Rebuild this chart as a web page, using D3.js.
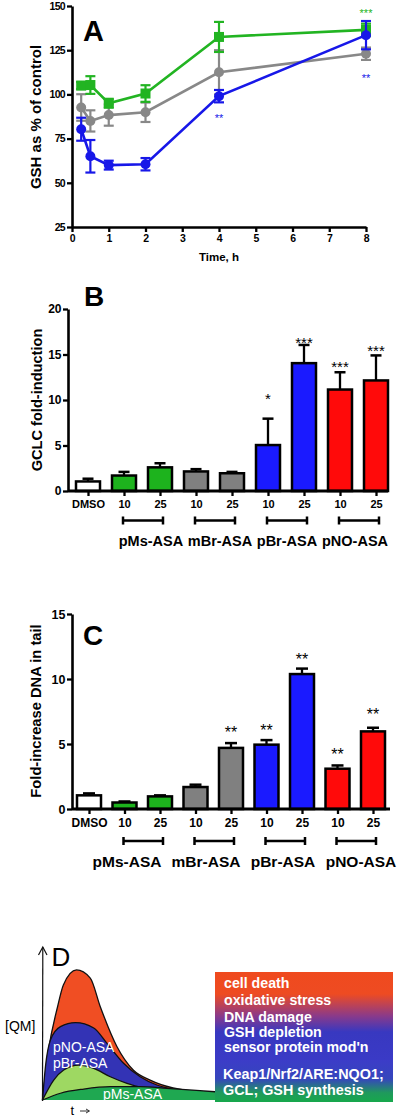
<!DOCTYPE html>
<html><head><meta charset="utf-8">
<script src="https://cdn.jsdelivr.net/npm/d3@7/dist/d3.min.js"></script>
<style>
body{margin:0;background:#fff;}
svg{display:block;font-family:"Liberation Sans",Arial,sans-serif;}
</style></head><body>
<svg id="c" width="400" height="1119"></svg>
<script>
// ---------- Panel A data (GSH as % of control vs time) ----------
const timesA = [0.25, 0.5, 1, 2, 4, 8];
const pMsGSH = [105, 105.3, 95, 100.5, 132.5, 136.5];
const pMsGSHErr = [2, 5, 2.5, 4.7, 8.5, 3.5];
const mBrGSH = [92.6, 85, 88.3, 89.9, 112.5, 123];
const mBrGSHErr = [7.5, 6, 6, 5.5, 12.5, 3.5];
const pBrGSH = [80.3, 65, 60, 60.5, 99, 133.5];
const pBrGSHErr = [6.5, 9.2, 2.5, 3.5, 3.5, 8];
const yTicksA = [25, 50, 75, 100, 125, 150];
const xTicksA = [0, 1, 2, 3, 4, 5, 6, 7, 8];
const starsATime = [8, 4, 8];
const starsALevel = [147.5, 88, 110.5];
const starsAText = ["***", "**", "**"];
const starsASeries = ["pMs", "pBr", "pBr"];

// ---------- Panels B & C shared categories ----------
const barCategories = ["DMSO","pMs-10","pMs-25","mBr-10","mBr-25","pBr-10","pBr-25","pNO-10","pNO-25"];
const doseLabels = ["DMSO","10","25","10","25","10","25","10","25"];
const barGroup = ["DMSO","pMs","pMs","mBr","mBr","pBr","pBr","pNO","pNO"];
const groupKeys = ["pMs","mBr","pBr","pNO"];
const groupNames = ["pMs-ASA","mBr-ASA","pBr-ASA","pNO-ASA"];

// ---------- Panel B data (GCLC fold-induction) ----------
const gclcValues = [1.05, 1.7, 2.6, 2.15, 1.95, 5.05, 14.05, 11.15, 12.15];
const gclcErr = [0.3, 0.4, 0.45, 0.25, 0.15, 2.9, 2.0, 1.9, 2.75];
const gclcStars = ["","","","","","*","***","***","***"];
const gclcStarLevel = [0,0,0,0,0,10.5,16.7,14.0,15.8];
const yTicksB = [0, 5, 10, 15, 20];

// ---------- Panel C data (Fold-increase DNA in tail) ----------
const dnaValues = [1.05, 0.5, 0.97, 1.69, 4.7, 4.95, 10.38, 3.1, 5.97];
const dnaErr = [0.15, 0.08, 0.08, 0.18, 0.37, 0.35, 0.42, 0.25, 0.28];
const dnaStars = ["","","","","**","**","**","**","**"];
const dnaStarLevel = [0,0,0,0,6.2,6.35,11.8,4.5,7.55];
const yTicksC = [0, 5, 10, 15];

// ---------- Panel D schematic curves ([t, QM] pairs) ----------
const qmPNO = [[0,0],[3.5,33.3],[8.7,62],[12.1,76.7],[19.7,86.7],[27.7,81.3],[33.5,62.2],[43.2,35.5],[52.6,20],[62.4,13.3],[75.7,8],[91.3,5.5],[100,5.3]];
const qmPBr = [[0,0],[1.7,22.2],[4.6,40],[10.4,48.9],[19.1,51.6],[29.7,48],[37.4,37.8],[47,24.5],[56.6,15.5],[66.3,10],[73,7.8]];
const qmMid = [[0,0],[6.5,13.3],[12.3,20],[21,23.3],[29.7,21.1],[39.3,15.5],[49,11.1],[56.6,8.5]];
const qmPMs = [[0,0],[10.4,4.5],[23.9,7.3],[39.3,8.9],[56.6,8.9],[72.1,7.8],[91.3,6.2],[100,5.5]];
const boxLinesTop = ["cell death","oxidative stress","DNA damage","GSH depletion","sensor protein mod'n"];
const boxLinesBottom = ["Keap1/Nrf2/ARE:NQO1;","GCL; GSH synthesis"];

// ---------- styles ----------
const colA = {pMs:"#22b422", mBr:"#888888", pBr:"#1717e8"};
const barColor = {DMSO:"#ffffff", pMs:"#1db31d", mBr:"#808080", pBr:"#1a1aff", pNO:"#ff0a0a"};

const svg = d3.select("#c");

function styleAxis(g, fs, ls) {
  g.selectAll("path.domain").attr("stroke","#000").attr("stroke-width",2.6);
  g.selectAll(".tick line").attr("stroke","#000").attr("stroke-width",2.3);
  g.selectAll(".tick text").attr("fill","#000").attr("font-weight","bold")
    .attr("font-size",fs).attr("font-family","'Liberation Sans',Arial,sans-serif")
    .attr("letter-spacing", ls || 0);
}
function starText(g, x, yCenter, txt, fs, color) {
  g.append("text").attr("x",x).attr("y",yCenter + 0.57*fs).attr("text-anchor","middle")
    .attr("font-size",fs).attr("fill",color).text(txt);
}

// ================= Panel A =================
(function(){
  const x = d3.scaleLinear().domain([0,8]).range([72,366]);
  const y = d3.scaleLinear().domain([25,150]).range([227,6]);
  const g = svg.append("g");
  const ya = g.append("g").attr("transform","translate(72,0)")
    .call(d3.axisLeft(y).tickValues(yTicksA).tickSize(5).tickSizeOuter(0).tickPadding(2));
  styleAxis(ya, 10.5, -0.7);
  const xa = g.append("g").attr("transform","translate(0,227)")
    .call(d3.axisBottom(x).tickValues(xTicksA).tickSize(5).tickSizeOuter(0).tickPadding(3));
  styleAxis(xa, 10.5, -0.3);
  g.append("text").attr("x",219).attr("y",261).attr("text-anchor","middle")
    .attr("font-weight","bold").attr("font-size",11.5).text("Time, h");
  g.append("text").attr("transform","translate(41,117) rotate(-90)").attr("text-anchor","middle")
    .attr("font-weight","bold").attr("font-size",15).text("GSH as % of control");
  g.append("text").attr("x",83).attr("y",41).attr("font-weight","bold").attr("font-size",29).text("A");

  const series = [
    {key:"mBr", v:mBrGSH, e:mBrGSHErr, shape:"circle"},
    {key:"pMs", v:pMsGSH, e:pMsGSHErr, shape:"square"},
    {key:"pBr", v:pBrGSH, e:pBrGSHErr, shape:"circle"}
  ];
  const line = d3.line().x(d=>x(d[0])).y(d=>y(d[1]));
  series.forEach(s=>{
    const c = colA[s.key];
    const pts = timesA.map((t,i)=>[t,s.v[i],s.e[i]]);
    const sg = g.append("g");
    pts.forEach(p=>{
      const cx = x(p[0]);
      sg.append("line").attr("x1",cx).attr("x2",cx).attr("y1",y(p[1]-p[2])).attr("y2",y(p[1]+p[2]))
        .attr("stroke",c).attr("stroke-width",2.2);
      [p[1]-p[2], p[1]+p[2]].forEach(v=>{
        sg.append("line").attr("x1",cx-5).attr("x2",cx+5).attr("y1",y(v)).attr("y2",y(v))
          .attr("stroke",c).attr("stroke-width",2.2);
      });
    });
    sg.append("path").datum(pts).attr("d",line).attr("fill","none").attr("stroke",c).attr("stroke-width",2.6);
    pts.forEach(p=>{
      if (s.shape==="circle") sg.append("circle").attr("cx",x(p[0])).attr("cy",y(p[1])).attr("r",5).attr("fill",c);
      else sg.append("rect").attr("x",x(p[0])-5).attr("y",y(p[1])-5).attr("width",10).attr("height",10).attr("fill",c);
    });
  });
  starsATime.forEach((t,i)=>starText(g, x(t), y(starsALevel[i]), starsAText[i], 11, colA[starsASeries[i]]));
})();

// ================= Bar panels =================
function barPanel(opts) {
  const g = svg.append("g");
  const x = d3.scalePoint().domain(barCategories).range(opts.xr).padding(0);
  const y = d3.scaleLinear().domain(opts.yd).range(opts.yr);
  const ya = g.append("g").attr("transform",`translate(${opts.ax},0)`)
    .call(d3.axisLeft(y).tickValues(opts.yTicks).tickSize(5).tickSizeOuter(0).tickPadding(1.5));
  styleAxis(ya, opts.yfs);
  barCategories.forEach((c,i)=>{
    const cx = x(c), v = opts.values[i], e = opts.err[i];
    g.append("line").attr("x1",cx).attr("x2",cx).attr("y1",y(v)).attr("y2",y(v+e))
      .attr("stroke","#000").attr("stroke-width",2.3);
    g.append("line").attr("x1",cx-opts.cap/2).attr("x2",cx+opts.cap/2).attr("y1",y(v+e)).attr("y2",y(v+e))
      .attr("stroke","#000").attr("stroke-width",2.5);
    g.append("rect").attr("x",cx-opts.bw/2).attr("y",y(v)).attr("width",opts.bw).attr("height",y(0)-y(v))
      .attr("fill",barColor[barGroup[i]]).attr("stroke","#000").attr("stroke-width",2.5);
    if (opts.stars[i]) starText(g, cx, y(opts.starLevel[i]), opts.stars[i], opts.sfs, "#000");
  });
  const xa = g.append("g").attr("transform",`translate(0,${y(0)})`)
    .call(d3.axisBottom(x).tickSize(5).tickSizeOuter(0).tickPadding(4).tickFormat((d,i)=>doseLabels[i]));
  styleAxis(xa, opts.xfs);
  xa.select("path.domain").remove();
  g.append("line").attr("x1",opts.ax).attr("x2",opts.xEnd).attr("y1",y(0)).attr("y2",y(0))
    .attr("stroke","#000").attr("stroke-width",2.8);
  groupKeys.forEach((k,j)=>{
    const x1 = x(k+"-10") + opts.bl, x2 = x(k+"-25") + opts.br;
    const by = opts.bracketY;
    g.append("line").attr("x1",x1).attr("x2",x2).attr("y1",by).attr("y2",by).attr("stroke","#000").attr("stroke-width",2.7);
    [x1,x2].forEach(xx=>g.append("line").attr("x1",xx).attr("x2",xx).attr("y1",by-4).attr("y2",by+4)
      .attr("stroke","#000").attr("stroke-width",2.5));
    g.append("text").attr("x",opts.groupX[j]).attr("y",opts.groupY).attr("text-anchor","middle")
      .attr("font-weight","bold").attr("font-size",opts.gfs).text(groupNames[j]);
  });
  g.append("text").attr("transform",`translate(${opts.labX},${opts.labY}) rotate(-90)`).attr("text-anchor","middle")
    .attr("font-weight","bold").attr("font-size",opts.lfs).text(opts.label);
  g.append("text").attr("x",opts.letterX).attr("y",opts.letterY).attr("font-weight","bold").attr("font-size",28).text(opts.letter);
}

barPanel({xr:[88,376], yd:[0,20], yr:[491,309], ax:68, xEnd:388, yTicks:yTicksB, yfs:12,
  values:gclcValues, err:gclcErr, stars:gclcStars, starLevel:gclcStarLevel, sfs:15,
  bw:24, cap:11, xfs:11, bracketY:520.5, bl:-1, br:3, groupX:[151,220,287,355], groupY:546, gfs:14.5,
  label:"GCLC fold-induction", labX:42, labY:400, lfs:14.6, letter:"B", letterX:84, letterY:306});

barPanel({xr:[89,373], yd:[0,15], yr:[809,614], ax:72, xEnd:390, yTicks:yTicksC, yfs:12.5,
  values:dnaValues, err:dnaErr, stars:dnaStars, starLevel:dnaStarLevel, sfs:16,
  bw:24, cap:12, xfs:12, bracketY:841, bl:-1, br:3, groupX:[127,206,283,361], groupY:867, gfs:15.5,
  label:"Fold-increase DNA in tail", labX:41, labY:711, lfs:14.7, letter:"C", letterX:83, letterY:645});

// ================= Panel D =================
(function(){
  const g = svg.append("g");
  const x = d3.scaleLinear().domain([0,100]).range([42.5,215]);
  const y = d3.scaleLinear().domain([0,100]).range([1100,950]);
  const area = d3.area().x(d=>x(d[0])).y0(y(0)).y1(d=>y(d[1])).curve(d3.curveMonotoneX);
  const ln = d3.line().x(d=>x(d[0])).y(d=>y(d[1])).curve(d3.curveMonotoneX);
  const layers = [[qmPNO,"#f04e23"],[qmPBr,"#3333b5"],[qmMid,"#9ed862"],[qmPMs,"#1fa851"]];
  layers.forEach(([d,c])=>{
    g.append("path").datum(d).attr("d",area).attr("fill",c);
    g.append("path").datum(d).attr("d",ln).attr("fill","none").attr("stroke","#111").attr("stroke-width",1.3);
  });
  g.append("line").attr("x1",42.5).attr("x2",42.8).attr("y1",1101).attr("y2",947).attr("stroke","#111").attr("stroke-width",1.2);
  g.append("path").attr("d","M38.5,955 L42.8,947 L47,955").attr("fill","none").attr("stroke","#111").attr("stroke-width",1.2);
  g.append("text").attr("x",51.5).attr("y",965.5).attr("font-size",26).text("D");
  g.append("text").attr("x",5).attr("y",1031).attr("font-size",14).text("[QM]");
  g.append("text").attr("x",70.5).attr("y",1115).attr("font-size",13).text("t");
  g.append("line").attr("x1",80).attr("x2",89).attr("y1",1111).attr("y2",1111).attr("stroke","#333").attr("stroke-width",1);
  g.append("path").attr("d","M86,1109 L89.5,1111 L86,1113").attr("fill","none").attr("stroke","#333").attr("stroke-width",1);
  g.append("text").attr("x",53).attr("y",1051.5).attr("font-size",14).attr("fill","#fff").text("pNO-ASA");
  g.append("text").attr("x",53).attr("y",1067.5).attr("font-size",14).attr("fill","#fff").text("pBr-ASA");
  g.append("text").attr("x",103).attr("y",1099.3).attr("font-size",14).attr("fill","#fff").text("pMs-ASA");

  const defs = svg.append("defs");
  const gt = defs.append("linearGradient").attr("id","gTop").attr("x1",0).attr("y1",0).attr("x2",0).attr("y2",1);
  [[0,"#ef4a1e"],[0.25,"#ee4b22"],[0.5,"#8a3a8a"],[0.68,"#3838c0"],[1,"#3a3ac6"]].forEach(s=>gt.append("stop").attr("offset",s[0]).attr("stop-color",s[1]));
  const gb = defs.append("linearGradient").attr("id","gBot").attr("x1",0).attr("y1",0).attr("x2",0).attr("y2",1);
  [[0,"#3c3cc8"],[0.45,"#3546bc"],[0.78,"#1f9a5c"],[1,"#17a84c"]].forEach(s=>gb.append("stop").attr("offset",s[0]).attr("stop-color",s[1]));
  g.append("rect").attr("x",215).attr("y",972).attr("width",178).attr("height",88).attr("fill","url(#gTop)");
  g.append("rect").attr("x",215).attr("y",1060).attr("width",178).attr("height",42).attr("fill","url(#gBot)");
  const topBase = [988, 1005, 1021.5, 1036.5, 1052];
  boxLinesTop.forEach((t,i)=>g.append("text").attr("x",224).attr("y",topBase[i]).attr("font-size",14.2)
    .attr("font-weight","bold").attr("fill","#fff").text(t));
  const botBase = [1079, 1095];
  boxLinesBottom.forEach((t,i)=>g.append("text").attr("x",223).attr("y",botBase[i]).attr("font-size",14.4)
    .attr("font-weight","bold").attr("fill","#fff").text(t));
})();
</script>
</body></html>
